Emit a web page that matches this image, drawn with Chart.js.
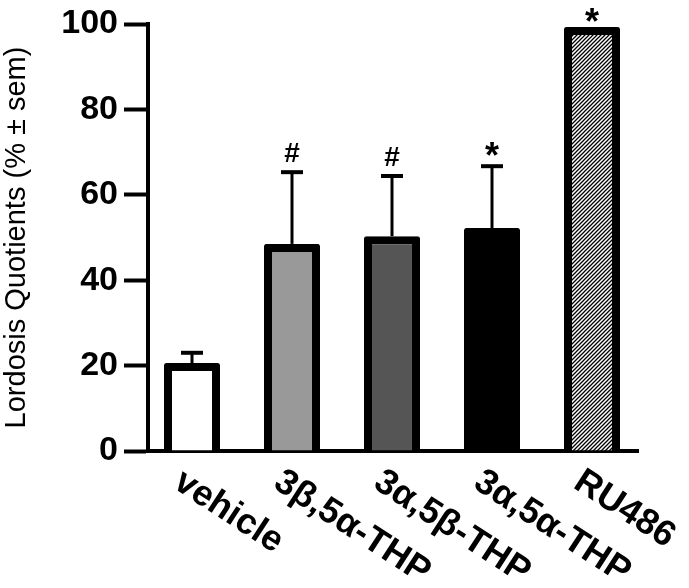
<!DOCTYPE html>
<html>
<head>
<meta charset="utf-8">
<script src="https://cdn.jsdelivr.net/npm/chart.js@4"></script>
<style>
  html, body { margin: 0; padding: 0; background: #fff; }
</style>
</head>
<body>
<canvas id="lq" width="689" height="588"></canvas>
<script>
// lordosis quotients, values
const categories = ['vehicle', '3β,5α-THP', '3α,5β-THP', '3α,5α-THP', 'RU486'];
const lqValues = [20.6, 48.5, 50.3, 52.2, 99.3];
const semValues = [2.4, 16.8, 14.1, 14.5, 0];
const markers = ['', '#', '#', '*', '*'];
const yTicks = [0, 20, 40, 60, 80, 100];

const FONT = '"Liberation Sans", Arial, Helvetica, sans-serif';

function hatchPattern() {
    const p = document.createElement('canvas');
    p.width = 4; p.height = 4;
    const g = p.getContext('2d');
    g.fillStyle = '#fff';
    g.fillRect(0, 0, 4, 4);
    g.strokeStyle = '#000';
    g.lineWidth = 1.3;
    g.beginPath();
    g.moveTo(0, 4); g.lineTo(4, 0);
    g.moveTo(-1, 1); g.lineTo(1, -1);
    g.moveTo(3, 5); g.lineTo(5, 3);
    g.stroke();
    return g.createPattern(p, 'repeat');
}

const fills = ['#ffffff', '#999999', '#555555', '#000000', hatchPattern()];

// error bars, significance marks and the slanted category labels
const extras = {
    id: 'extras',
    afterDatasetsDraw(chart) {
        const { ctx, scales: { x, y } } = chart;
        ctx.save();
        ctx.strokeStyle = '#000';
        ctx.fillStyle = '#000';
        lqValues.forEach((v, i) => {
            const px = x.getPixelForValue(i);
            let top = y.getPixelForValue(v);
            let gap = 5;
            if (semValues[i] > 0) {
                const ty = y.getPixelForValue(v + semValues[i]);
                ctx.lineWidth = 3;
                ctx.beginPath(); ctx.moveTo(px, top); ctx.lineTo(px, ty); ctx.stroke();
                ctx.lineWidth = 4;
                ctx.beginPath(); ctx.moveTo(px - 11, ty); ctx.lineTo(px + 11, ty); ctx.stroke();
                top = ty;
                gap = 10;
            }
            if (markers[i]) {
                ctx.font = (markers[i] === '*' ? 'bold 36px ' : 'bold 28px ') + FONT;
                ctx.textAlign = 'center';
                ctx.textBaseline = 'alphabetic';
                const m = ctx.measureText(markers[i]);
                ctx.fillText(markers[i], px, top - gap - m.actualBoundingBoxDescent);
            }
        });

        ctx.font = 'bold 36px ' + FONT;
        ctx.textAlign = 'left';
        ctx.textBaseline = 'alphabetic';
        const ang = 33 * Math.PI / 180;
        const y0 = y.getPixelForValue(0);
        categories.forEach((c, i) => {
            ctx.save();
            ctx.translate(x.getPixelForValue(i) - 20, y0 + 36);
            ctx.rotate(ang);
            ctx.fillText(c, 0, 0);
            ctx.restore();
        });
        ctx.restore();
    }
};

new Chart(document.getElementById('lq'), {
    type: 'bar',
    data: {
        datasets: [{
            data: lqValues.map((v, i) => ({ x: i, y: v })),
            backgroundColor: fills,
            borderColor: '#000',
            borderWidth: 8,
            borderSkipped: 'start',
            borderRadius: 2,
            barPercentage: 0.56,
            categoryPercentage: 1
        }]
    },
    options: {
        responsive: false,
        animation: false,
        devicePixelRatio: 1,
        layout: { padding: { top: 24, right: 51, bottom: 137, left: 0 } },
        plugins: { legend: { display: false }, tooltip: { enabled: false } },
        scales: {
            x: {
                type: 'linear',
                min: -0.44,
                max: 4.46,
                offset: false,
                grid: { display: false },
                border: { display: true, color: '#000', width: 4 },
                ticks: { display: false },
                afterBuildTicks: (s) => { s.ticks = categories.map((_, i) => ({ value: i })); },
                afterFit: (s) => { s.height = 0; }
            },
            y: {
                min: 0,
                max: 100,
                afterBuildTicks: (s) => { s.ticks = yTicks.map(v => ({ value: v })); },
                ticks: {
                    color: '#000',
                    padding: 6,
                    font: { family: FONT, size: 34, weight: 'bold' }
                },
                grid: {
                    drawOnChartArea: false,
                    drawTicks: true,
                    tickLength: 24,
                    tickWidth: 4,
                    tickColor: '#000'
                },
                border: { display: true, color: '#000', width: 4 },
                title: {
                    display: true,
                    text: 'Lordosis Quotients (% ± sem)',
                    color: '#000',
                    padding: 0,
                    font: { family: FONT, size: 29 }
                },
                afterFit: (s) => { s.width = 148; s.paddingTop = 0; s.paddingBottom = 0; }
            }
        }
    },
    plugins: [extras]
});
</script>
</body>
</html>
